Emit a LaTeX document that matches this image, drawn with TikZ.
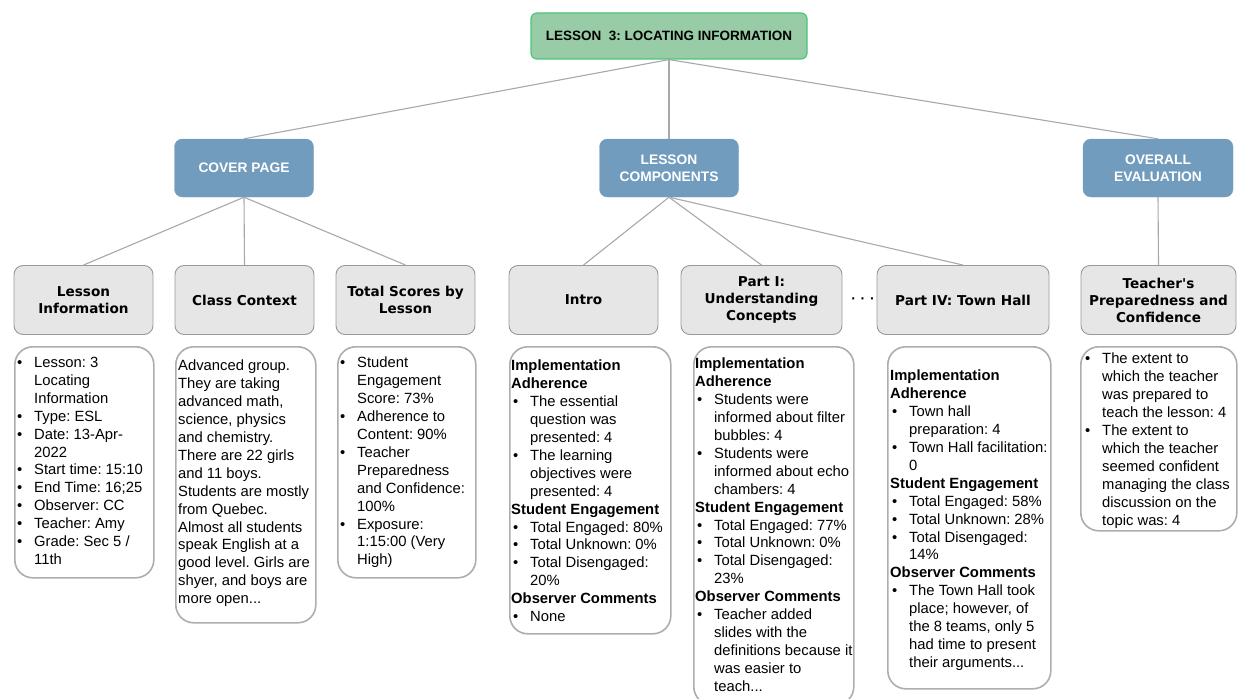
\documentclass[tikz,border=0pt]{standalone}
\usepackage{fontspec}
\setmainfont{Liberation Sans}
\newfontfamily\headfont{DejaVu Sans}
\frenchspacing

\definecolor{topgreen}{HTML}{98CCA6}
\definecolor{topline}{HTML}{4CC47A}
\definecolor{secblue}{HTML}{729CBD}
\definecolor{subgray}{HTML}{E6E6E6}
\definecolor{subedge}{HTML}{999999}
\definecolor{boxgray}{HTML}{ADADAD}
\definecolor{linkgray}{HTML}{A8A8A8}

%bullet and indent for the lists
\newcommand\bu{\makebox[19pt][l]{\hspace{2pt}\textbullet}}
\newcommand\ind{\hspace*{19pt}}

\tikzset{
  topbox/.style={draw=topline,fill=topgreen,line width=1.2pt,rounded corners=6pt,
    minimum width=276pt,minimum height=46pt,inner sep=0pt,
    font=\bfseries\fontsize{13.5}{16}\selectfont},
  secbox/.style={draw=secblue,fill=secblue,rounded corners=8pt,minimum width=139pt,
    minimum height=58pt,inner sep=0pt,align=center,text=white,
    font=\bfseries\fontsize{13.8}{17}\selectfont},
  subbox/.style={draw=subedge,fill=subgray,line width=0.9pt,rounded corners=9pt,
    minimum width=139pt,minimum height=69pt,inner sep=0pt,align=center,
    font=\headfont\bfseries\fontsize{13.6}{17}\selectfont},
  txtbox/.style={draw=boxgray,line width=1.6pt,rounded corners=18pt,anchor=north west,inner sep=0pt},
  txt/.style={anchor=north west,inner sep=0pt,align=left,font=\fontsize{14.8}{17.9}\selectfont},
  link/.style={draw=linkgray,line width=1.1pt}
}

\begin{document}
\begin{tikzpicture}[x=1pt,y=-1pt]
    \useasboundingbox (0,0) rectangle (1238,698);

    %lesson title
    \node[topbox] (lesson) at (669,36) {LESSON\ \ 3: LOCATING INFORMATION};

    %sections
    \node[secbox] (cover) at (244,168) {COVER PAGE};
    \node[secbox] (comp) at (669,168) {LESSON\\COMPONENTS};
    \node[secbox,minimum width=150pt] (overall) at (1158,168) {OVERALL\\EVALUATION};

    %subsections
    \node[subbox] (info) at (83.5,300) {Lesson\\Information};
    \node[subbox] (context) at (244.5,300) {Class Context};
    \node[subbox] (scores) at (405.5,300) {Total Scores by\\Lesson};
    \node[subbox,minimum width=149pt] (intro) at (583.5,300) {Intro};
    \node[subbox,minimum width=161pt] (partI) at (761.5,300) {Part I:\\Understanding\\Concepts};
    \node[fill=white,inner sep=0pt,font=\bfseries\fontsize{14}{16}\selectfont] (dots) at (863,301) {·\,\,·\,\,·};
    \node[subbox,minimum width=172pt] (partIV) at (963,300) {Part IV: Town Hall};
    \node[subbox,minimum width=155pt] (prep) at (1158.5,300) {Teacher's\\Preparedness and\\Confidence};

    %connectors
    \draw[link] (lesson.south) -- (cover.north);
    \draw[link] (lesson.south) -- (comp.north);
    \draw[link] (lesson.south) -- (overall.north);
    \draw[link] (cover.south) -- (info.north);
    \draw[link] (cover.south) -- (context.north);
    \draw[link] (cover.south) -- (scores.north);
    \draw[link] (comp.south) -- (intro.north);
    \draw[link] (comp.south) -- (partI.north);
    \draw[link] (comp.south) -- (partIV.north);
    \draw[link] (overall.south) -- (prep.north);

    %text boxes
    \node[txtbox,minimum width=139pt,minimum height=231pt] (infoBox) at (14,346) {};
    \node[txtbox,minimum width=140pt,minimum height=276pt] (contextBox) at (175,346) {};
    \node[txtbox,minimum width=138pt,minimum height=231pt] (scoresBox) at (337,346) {};
    \node[txtbox,minimum width=161pt,minimum height=287pt] (introBox) at (509,346) {};
    \node[txtbox,minimum width=160pt,minimum height=358pt] (partIBox) at (693,346) {};
    \node[txtbox,minimum width=163pt,minimum height=342pt] (partIVBox) at (887,346) {};
    \node[txtbox,minimum width=156pt,minimum height=184pt] (prepBox) at (1080,346) {};

    %box contents
    \node[txt] (infoTxt) at (15,357) {\bu Lesson: 3\\\ind Locating\\\ind Information\\
        \bu Type: ESL\\\bu Date: 13-Apr-\\\ind 2022\\\bu Start time: 15:10\\
        \bu End Time: 16;25\\\bu Observer: CC\\\bu Teacher: Amy\\
        \bu Grade: Sec 5 /\\\ind 11th};
    \node[txt] (contextTxt) at (178,360) {Advanced group.\\They are taking\\advanced math,\\
        science, physics\\and chemistry.\\There are 22 girls\\and 11 boys.\\
        Students are mostly\\from Quebec.\\Almost all students\\speak English at a\\
        good level. Girls are\\shyer, and boys are\\more open...};
    \node[txt] (scoresTxt) at (338,357) {\bu Student\\\ind Engagement\\\ind Score: 73\%\\
        \bu Adherence to\\\ind Content: 90\%\\\bu Teacher\\\ind Preparedness\\
        \ind and Confidence:\\\ind 100\%\\\bu Exposure:\\\ind 1:15:00 (Very\\\ind High)};
    \node[txt] (introTxt) at (511,360) {\textbf{Implementation}\\\textbf{Adherence}\\
        \bu The essential\\\ind question was\\\ind presented: 4\\
        \bu The learning\\\ind objectives were\\\ind presented: 4\\
        \textbf{Student Engagement}\\\bu Total Engaged: 80\%\\\bu Total Unknown: 0\%\\
        \bu Total Disengaged:\\\ind 20\%\\\textbf{Observer Comments}\\\bu None};
    \node[txt] (partITxt) at (695,358) {\textbf{Implementation}\\\textbf{Adherence}\\
        \bu Students were\\\ind informed about filter\\\ind bubbles: 4\\
        \bu Students were\\\ind informed about echo\\\ind chambers: 4\\
        \textbf{Student Engagement}\\\bu Total Engaged: 77\%\\\bu Total Unknown: 0\%\\
        \bu Total Disengaged:\\\ind 23\%\\\textbf{Observer Comments}\\
        \bu Teacher added\\\ind slides with the\\\ind definitions because it\\
        \ind was easier to\\\ind teach...};
    \node[txt] (partIVTxt) at (890,370) {\textbf{Implementation}\\\textbf{Adherence}\\
        \bu Town hall\\\ind preparation: 4\\\bu Town Hall facilitation:\\\ind 0\\
        \textbf{Student Engagement}\\\bu Total Engaged: 58\%\\\bu Total Unknown: 28\%\\
        \bu Total Disengaged:\\\ind 14\%\\\textbf{Observer Comments}\\
        \bu The Town Hall took\\\ind place; however, of\\\ind the 8 teams, only 5\\
        \ind had time to present\\\ind their arguments...};
    \node[txt] (prepTxt) at (1083,353) {\bu The extent to\\\ind which the teacher\\
        \ind was prepared to\\\ind teach the lesson: 4\\\bu The extent to\\
        \ind which the teacher\\\ind seemed confident\\\ind managing the class\\
        \ind discussion on the\\\ind topic was: 4};
\end{tikzpicture}
\end{document}
